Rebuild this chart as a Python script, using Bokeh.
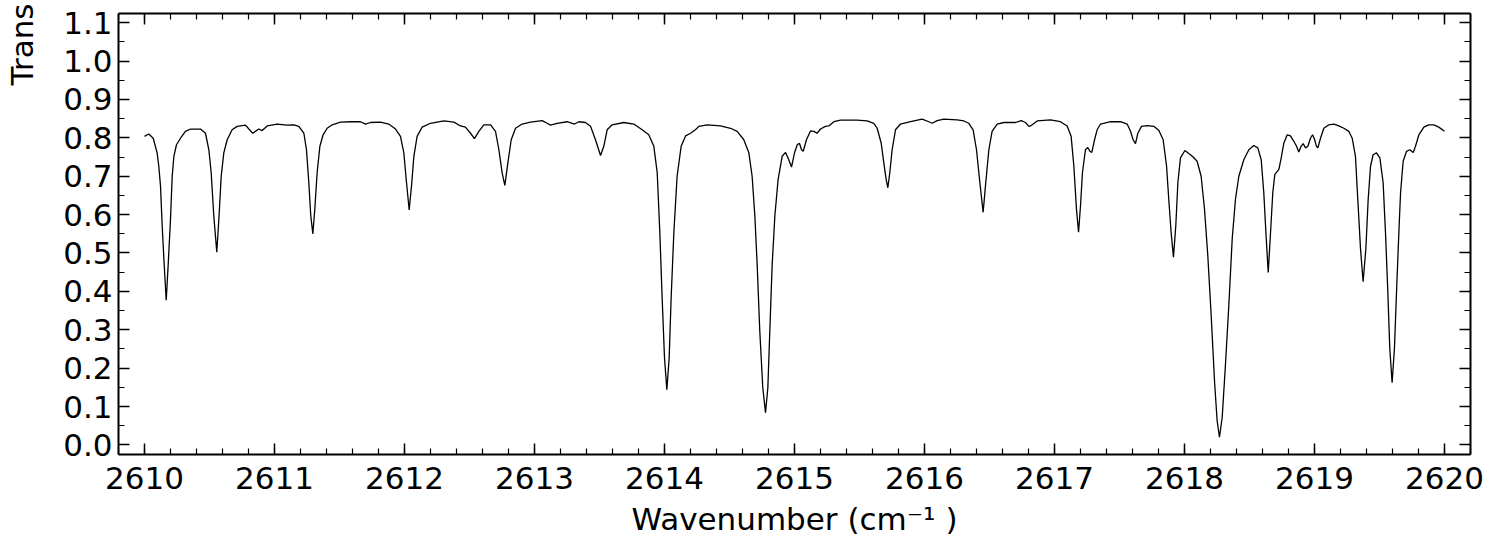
from bokeh.plotting import figure
from bokeh.models import LinearAxis, FixedTicker, Range1d, PrintfTickFormatter, Title
from bokeh.embed import file_html
from bokeh.resources import INLINE

wavenumber = [
    2610.000, 2610.033, 2610.067, 2610.097, 2610.110, 2610.123, 2610.136, 2610.149, 2610.167, 2610.182,
    2610.200, 2610.213, 2610.226, 2610.246, 2610.277, 2610.315, 2610.354, 2610.431, 2610.469, 2610.495,
    2610.513, 2610.533, 2610.556, 2610.572, 2610.590, 2610.610, 2610.636, 2610.674, 2610.713, 2610.777,
    2610.803, 2610.833, 2610.879, 2610.905, 2610.944, 2611.021, 2611.097, 2611.149, 2611.187, 2611.226,
    2611.246, 2611.264, 2611.279, 2611.295, 2611.310, 2611.328, 2611.349, 2611.374, 2611.405, 2611.444,
    2611.508, 2611.585, 2611.662, 2611.700, 2611.738, 2611.815, 2611.879, 2611.931, 2611.969, 2611.995,
    2612.013, 2612.036, 2612.054, 2612.072, 2612.097, 2612.136, 2612.200, 2612.303, 2612.380, 2612.431,
    2612.469, 2612.508, 2612.538, 2612.572, 2612.610, 2612.662, 2612.700, 2612.726, 2612.751, 2612.772,
    2612.795, 2612.821, 2612.854, 2612.905, 2612.969, 2613.059, 2613.097, 2613.123, 2613.174, 2613.251,
    2613.308, 2613.341, 2613.392, 2613.431, 2613.469, 2613.508, 2613.533, 2613.559, 2613.597, 2613.687,
    2613.764, 2613.828, 2613.879, 2613.918, 2613.944, 2613.964, 2613.982, 2614.000, 2614.018, 2614.036,
    2614.051, 2614.072, 2614.097, 2614.128, 2614.162, 2614.200, 2614.238, 2614.264, 2614.328, 2614.431,
    2614.508, 2614.559, 2614.610, 2614.649, 2614.674, 2614.695, 2614.713, 2614.733, 2614.756, 2614.777,
    2614.795, 2614.810, 2614.828, 2614.849, 2614.874, 2614.905, 2614.931, 2614.956, 2614.977, 2615.000,
    2615.021, 2615.038, 2615.054, 2615.067, 2615.092, 2615.123, 2615.149, 2615.174, 2615.200, 2615.238,
    2615.264, 2615.303, 2615.354, 2615.482, 2615.559, 2615.610, 2615.636, 2615.667, 2615.687, 2615.705,
    2615.718, 2615.733, 2615.751, 2615.777, 2615.815, 2615.892, 2615.982, 2616.033, 2616.059, 2616.097,
    2616.149, 2616.251, 2616.303, 2616.341, 2616.374, 2616.400, 2616.426, 2616.451, 2616.469, 2616.495,
    2616.520, 2616.559, 2616.610, 2616.700, 2616.744, 2616.777, 2616.803, 2616.815, 2616.867, 2616.969,
    2617.046, 2617.097, 2617.128, 2617.149, 2617.169, 2617.185, 2617.200, 2617.215, 2617.238, 2617.256,
    2617.272, 2617.287, 2617.308, 2617.328, 2617.354, 2617.431, 2617.508, 2617.559, 2617.585, 2617.605,
    2617.623, 2617.641, 2617.669, 2617.713, 2617.764, 2617.803, 2617.836, 2617.862, 2617.879, 2617.897,
    2617.915, 2617.933, 2617.949, 2617.969, 2618.003, 2618.033, 2618.067, 2618.097, 2618.128, 2618.154,
    2618.179, 2618.205, 2618.231, 2618.251, 2618.269, 2618.290, 2618.315, 2618.341, 2618.367, 2618.392,
    2618.418, 2618.456, 2618.495, 2618.533, 2618.564, 2618.590, 2618.610, 2618.626, 2618.644, 2618.662,
    2618.679, 2618.695, 2618.726, 2618.744, 2618.764, 2618.790, 2618.815, 2618.841, 2618.862, 2618.879,
    2618.897, 2618.913, 2618.931, 2618.949, 2618.969, 2618.985, 2619.000, 2619.015, 2619.026, 2619.046,
    2619.072, 2619.110, 2619.149, 2619.187, 2619.226, 2619.264, 2619.290, 2619.315, 2619.333, 2619.354,
    2619.374, 2619.395, 2619.413, 2619.431, 2619.451, 2619.477, 2619.503, 2619.528, 2619.546, 2619.564,
    2619.579, 2619.597, 2619.615, 2619.631, 2619.649, 2619.662, 2619.682, 2619.708, 2619.733, 2619.759,
    2619.777, 2619.803, 2619.841, 2619.879, 2619.918, 2619.956, 2620.000,
]

transmittance = [
    0.804, 0.810, 0.799, 0.761, 0.726, 0.675, 0.571, 0.485, 0.377, 0.468,
    0.588, 0.700, 0.752, 0.782, 0.799, 0.817, 0.823, 0.823, 0.812, 0.769,
    0.709, 0.597, 0.502, 0.588, 0.700, 0.761, 0.795, 0.821, 0.830, 0.833,
    0.823, 0.812, 0.823, 0.819, 0.831, 0.836, 0.833, 0.834, 0.830, 0.812,
    0.769, 0.683, 0.597, 0.550, 0.614, 0.709, 0.778, 0.808, 0.825, 0.834,
    0.841, 0.842, 0.842, 0.836, 0.840, 0.841, 0.836, 0.823, 0.804, 0.761,
    0.692, 0.612, 0.675, 0.752, 0.804, 0.828, 0.838, 0.844, 0.841, 0.831,
    0.828, 0.812, 0.798, 0.817, 0.834, 0.834, 0.817, 0.769, 0.709, 0.676,
    0.735, 0.795, 0.825, 0.836, 0.841, 0.845, 0.838, 0.833, 0.838, 0.842,
    0.836, 0.842, 0.840, 0.830, 0.795, 0.754, 0.778, 0.821, 0.834, 0.840,
    0.836, 0.821, 0.808, 0.778, 0.709, 0.554, 0.382, 0.227, 0.144, 0.227,
    0.382, 0.554, 0.700, 0.778, 0.805, 0.812, 0.821, 0.830, 0.834, 0.831,
    0.825, 0.817, 0.795, 0.761, 0.700, 0.597, 0.468, 0.296, 0.149, 0.084,
    0.149, 0.296, 0.468, 0.597, 0.692, 0.752, 0.762, 0.743, 0.724, 0.761,
    0.782, 0.786, 0.769, 0.765, 0.795, 0.818, 0.817, 0.812, 0.823, 0.830,
    0.831, 0.842, 0.846, 0.846, 0.844, 0.838, 0.825, 0.786, 0.735, 0.692,
    0.670, 0.709, 0.769, 0.821, 0.836, 0.842, 0.849, 0.842, 0.838, 0.845,
    0.849, 0.847, 0.844, 0.838, 0.821, 0.769, 0.683, 0.606, 0.675, 0.769,
    0.817, 0.836, 0.840, 0.840, 0.845, 0.840, 0.830, 0.831, 0.844, 0.847,
    0.842, 0.831, 0.804, 0.726, 0.614, 0.554, 0.623, 0.709, 0.769, 0.775,
    0.765, 0.762, 0.795, 0.821, 0.836, 0.842, 0.842, 0.836, 0.817, 0.795,
    0.785, 0.812, 0.830, 0.832, 0.830, 0.819, 0.795, 0.726, 0.640, 0.554,
    0.489, 0.571, 0.683, 0.748, 0.767, 0.759, 0.750, 0.739, 0.700, 0.614,
    0.494, 0.339, 0.166, 0.063, 0.020, 0.072, 0.209, 0.364, 0.537, 0.640,
    0.700, 0.743, 0.769, 0.780, 0.774, 0.743, 0.657, 0.554, 0.449, 0.554,
    0.657, 0.705, 0.718, 0.748, 0.786, 0.808, 0.805, 0.791, 0.778, 0.763,
    0.778, 0.785, 0.774, 0.778, 0.799, 0.808, 0.797, 0.778, 0.774, 0.799,
    0.825, 0.834, 0.836, 0.831, 0.825, 0.817, 0.799, 0.752, 0.640, 0.511,
    0.425, 0.511, 0.640, 0.726, 0.756, 0.761, 0.748, 0.683, 0.554, 0.399,
    0.252, 0.162, 0.252, 0.399, 0.554, 0.657, 0.739, 0.765, 0.769, 0.762,
    0.778, 0.808, 0.828, 0.834, 0.834, 0.828, 0.817,
]

x_major_ticks = [2610, 2611, 2612, 2613, 2614, 2615, 2616, 2617, 2618, 2619, 2620]
y_major_ticks = [0.0, 0.1, 0.2, 0.3, 0.4, 0.5, 0.6, 0.7, 0.8, 0.9, 1.0, 1.1]
x_minor_ticks = [round(2609.8 + 0.2 * i, 1) for i in range(53)]
y_minor_ticks = [round(-0.05 + 0.05 * i, 2) for i in range(25)]

x_label_text = "Wavenumber (cm\u207b\u00b9 )"
y_label_text = "Trans"

FONT = "DejaVu Sans"

p = figure(
    width=1489, height=539,
    x_range=Range1d(2609.8, 2620.2), y_range=Range1d(-0.025, 1.124),
    output_backend="svg", toolbar_location=None,
    x_axis_location=None, y_axis_location=None,
    min_border_left=118, min_border_right=19, min_border_top=13, min_border_bottom=82,
)
p.xgrid.visible = False
p.ygrid.visible = False
p.outline_line_color = None
p.background_fill_color = "white"
p.border_fill_color = "white"

xt = FixedTicker(ticks=x_major_ticks, minor_ticks=x_minor_ticks)
yt = FixedTicker(ticks=y_major_ticks, minor_ticks=y_minor_ticks)


def style(ax, show_labels):
    ax.axis_line_color = "black"
    ax.axis_line_width = 2
    ax.major_tick_in = 11
    ax.major_tick_out = 0
    ax.minor_tick_in = 6
    ax.minor_tick_out = 0
    ax.major_tick_line_width = 1.5
    ax.minor_tick_line_width = 1.2
    ax.major_tick_line_color = "black"
    ax.minor_tick_line_color = "black"
    ax.major_label_text_font = FONT
    if show_labels:
        ax.major_label_text_font_size = "31px"
        ax.major_label_text_color = "black"
    else:
        ax.major_label_text_font_size = "1px"
        ax.major_label_text_color = None
        ax.major_label_standoff = 0


bottom = LinearAxis(ticker=xt, formatter=PrintfTickFormatter(format="%d"))
style(bottom, True)
bottom.major_label_standoff = 12
bottom.axis_label = x_label_text
bottom.axis_label_text_font = FONT
bottom.axis_label_text_font_size = "31px"
bottom.axis_label_text_font_style = "normal"
bottom.axis_label_text_color = "black"
bottom.axis_label_standoff = 9
p.add_layout(bottom, "below")

top = LinearAxis(ticker=xt, formatter=PrintfTickFormatter(format="%d"))
style(top, False)
p.add_layout(top, "above")

left = LinearAxis(ticker=yt, formatter=PrintfTickFormatter(format="%.1f"))
style(left, True)
left.major_label_standoff = 6
p.add_layout(left, "left")

# blank spacer between the tick labels and the y title (white, zero-length-looking tick)
spacer = LinearAxis(ticker=FixedTicker(ticks=[0.5], minor_ticks=[]))
spacer.axis_line_color = None
spacer.major_tick_line_color = "white"
spacer.major_tick_line_width = 1
spacer.minor_tick_line_color = None
spacer.major_tick_in = 0
spacer.major_tick_out = 21
spacer.minor_tick_in = 0
spacer.minor_tick_out = 0
spacer.major_label_text_font_size = "1px"
spacer.major_label_text_color = None
spacer.major_label_standoff = 0
p.add_layout(spacer, "left")

ytitle = Title(text=y_label_text, align="right", vertical_align="bottom",
               standoff=0, offset=-10, text_font=FONT, text_font_size="31px",
               text_font_style="normal", text_color="black")
p.add_layout(ytitle, "left")

right = LinearAxis(ticker=yt, formatter=PrintfTickFormatter(format="%.1f"))
style(right, False)
p.add_layout(right, "right")

p.line(wavenumber, transmittance, line_color="black", line_width=1.3)

open("out.html", "w").write(file_html(p, INLINE))
